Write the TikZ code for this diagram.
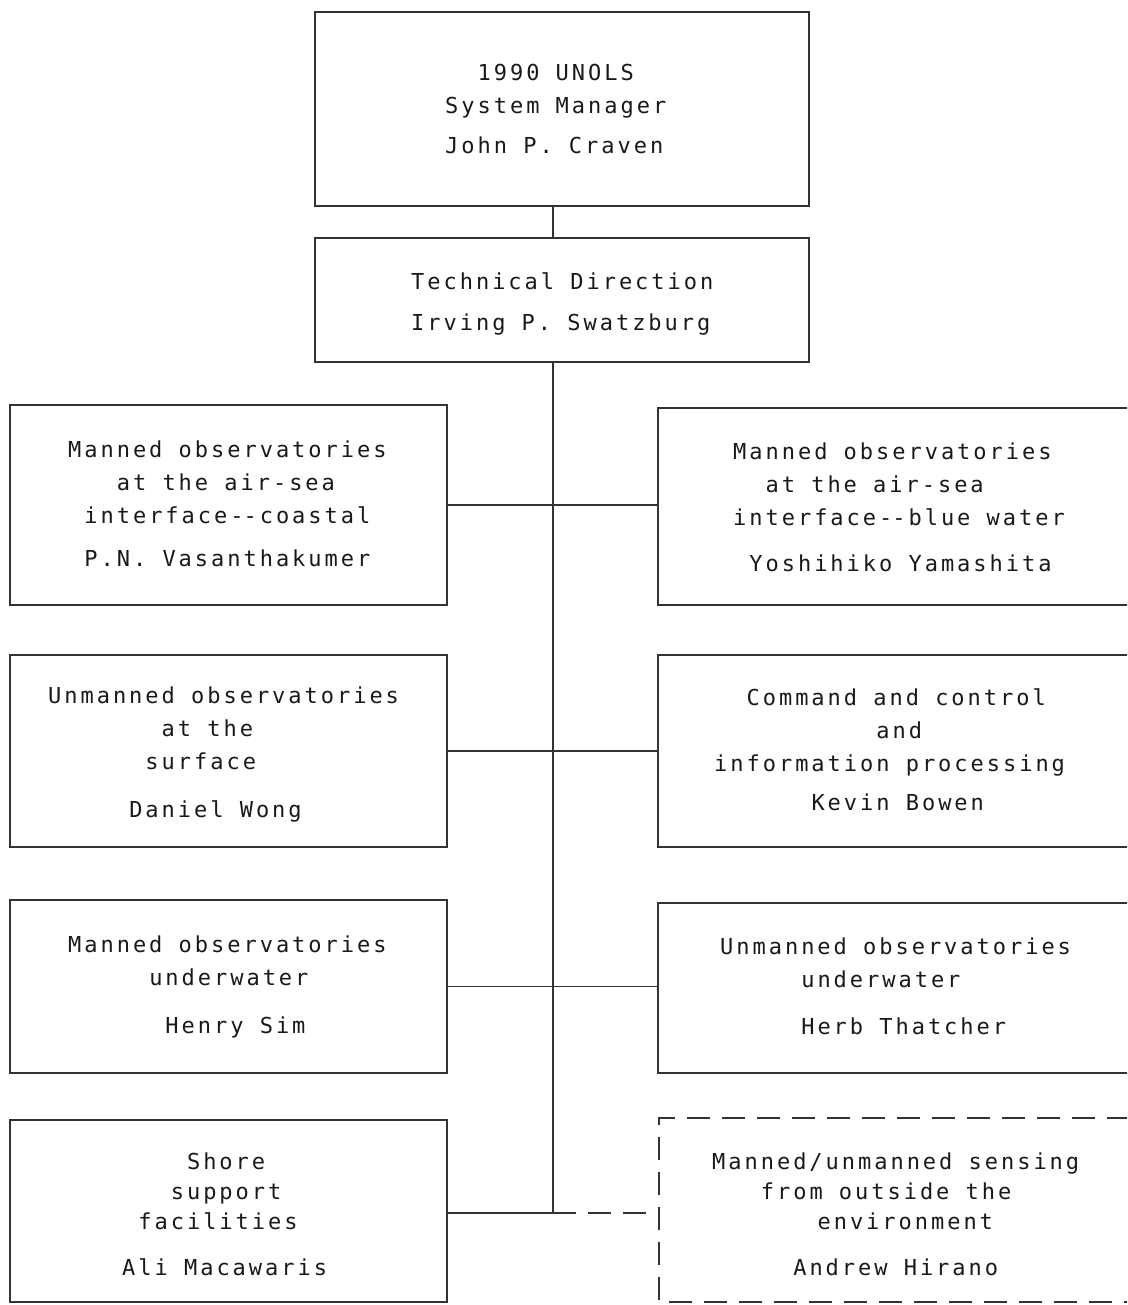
\documentclass[tikz,border=0pt]{standalone}
\usepackage{fontspec}
\newfontfamily\tw{DejaVu Sans Mono}[LetterSpace=13.5]
\newlength\cw
\newlength\cwone
\newcommand\ind[1]{\hspace*{#1\cw}}
\newcommand\dd{-\kern0pt-}
\definecolor{ink}{gray}{0.1}
\definecolor{rule}{gray}{0.2}
\begin{document}
% character pitch of the letterspaced typewriter face
\settowidth{\cw}{\tw\fontsize{22}{33}\selectfont MMMMMMMMMMM}
\settowidth{\cwone}{\tw\fontsize{22}{33}\selectfont M}
\addtolength{\cw}{-\cwone}
\setlength{\cw}{0.1\cw}
\begin{tikzpicture}[x=1pt,y=-1pt,
  box/.style={draw=rule,line width=1.9pt,inner sep=0pt,outer sep=0pt},
  txt/.style={font=\tw\fontsize{22}{33}\selectfont,text=ink,align=left,anchor=west,inner sep=0pt},
  tighttxt/.style={txt,font=\tw\fontsize{22}{30}\selectfont},
  conn/.style={draw=rule,line width=1.9pt},
  dconn/.style={conn,dash pattern=on 23pt off 12pt}]
\useasboundingbox (0,0) rectangle (1127,1305);
\clip (0,0) rectangle (1127,1305);

% boxes
\node[box,minimum width=494,minimum height=194] (t1) at (562,109) {};
\node[box,minimum width=494,minimum height=124] (t2) at (562,300) {};
\node[box,minimum width=437,minimum height=200] (L1) at (228.5,505) {};
\node[box,minimum width=472,minimum height=197] (R1) at (894,506.5) {};
\node[box,minimum width=437,minimum height=192] (L2) at (228.5,751) {};
\node[box,minimum width=472,minimum height=192] (R2) at (894,751) {};
\node[box,minimum width=437,minimum height=173] (L3) at (228.5,986.5) {};
\node[box,minimum width=472,minimum height=170] (R3) at (894,988) {};
\node[box,minimum width=437,minimum height=182] (L4) at (228.5,1211) {};
\node[box,draw=none,minimum width=471,minimum height=184] (R4) at (894.5,1210) {};
\draw[dconn] (R4.north east) -- (R4.north west) -- (R4.south west) -- (R4.south east);

% texts
\node[txt] (t1t) at (445,110) {\ind{2}\strut 1990 UNOLS\\ System Manager\\[7pt] \strut John P. Craven};
\node[txt] (t2t) at (411,303) {\strut Technical Direction\\[8pt] \strut Irving P. Swatzburg};
\node[txt] (L1t) at (68,505.4) {\strut Manned observatories\\ \ind{3}at the air-sea\\ \ind{1}interface\dd coastal\\[10pt] \ind{1}\strut P.N. Vasanthakumer};
\node[txt] (R1t) at (733,508.4) {\strut Manned observatories\\ \ind{2}at the air-sea\\ interface\dd blue water\\[13pt] \ind{1}\strut Yoshihiko Yamashita};
\node[txt] (L2t) at (48,754) {\strut Unmanned observatories\\ \ind{7}at the\\ \ind{6}surface\\[15pt] \ind{5}\strut Daniel Wong};
\node[txt] (R2t) at (714,751) {\ind{2}\strut Command and control\\ \ind{10}and\\ information processing\\[6pt] \ind{6}\strut Kevin Bowen};
\node[txt] (L3t) at (68,986.4) {\strut Manned observatories\\ \ind{5}underwater\\[15pt] \ind{6}\strut Henry Sim};
\node[txt] (R3t) at (720,987.4) {\strut Unmanned observatories\\ \ind{5}underwater\\[14pt] \ind{5}\strut Herb Thatcher};
\node[tighttxt] (L4t) at (122,1216) {\ind{4}\strut Shore\\ \ind{3}support\\ \ind{1}facilities\\[16pt] \strut Ali Macawaris};
\node[tighttxt] (R4t) at (712,1216) {\strut Manned/unmanned sensing\\ \ind{3}from outside the\\ \ind{6.5}environment\\[16pt] \ind{5}\strut Andrew Hirano};

% connectors
\coordinate (spine) at (553,0);
\coordinate (jn) at (553,1213);
\draw[conn] (spine |- t1.south) -- (spine |- t2.north);
\draw[conn] (spine |- t2.south) -- (jn);
\draw[conn] (L1.east) -- (L1.east -| R1.west);
\draw[conn] (L2.east) -- (L2.east -| R2.west);
\draw[conn] (L3.east) -- (L3.east -| R3.west);
\draw[conn] (jn -| L4.east) -- (jn);
\draw[dconn] (jn) -- (jn -| R4.west);
\end{tikzpicture}
\end{document}
